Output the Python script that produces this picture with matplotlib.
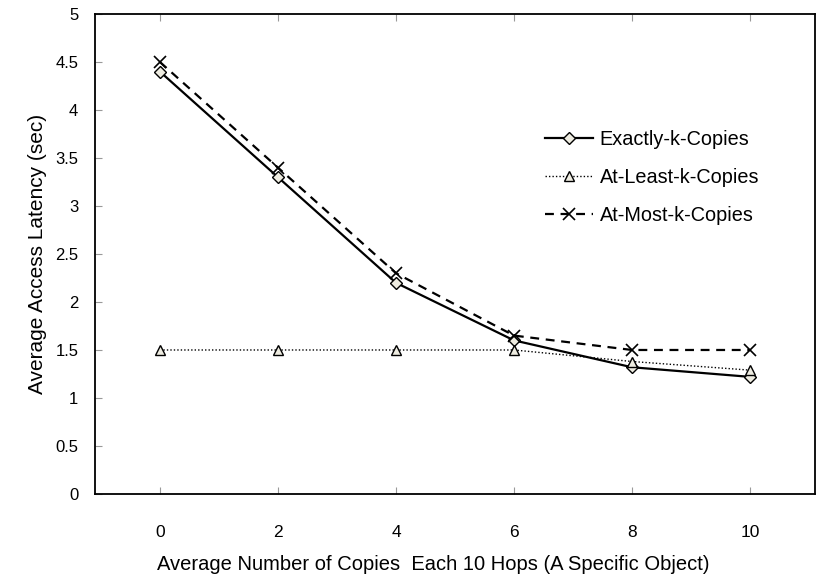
import matplotlib.pyplot as plt

x = [0, 2, 4, 6, 8, 10]
exactly = [4.4, 3.3, 2.2, 1.6, 1.32, 1.22]
at_least = [1.5, 1.5, 1.5, 1.5, 1.38, 1.29]
at_most = [4.5, 3.4, 2.3, 1.65, 1.5, 1.5]
ylabels = ['0', '0.5', '1', '1.5', '2', '2.5', '3', '3.5', '4', '4.5', '5']

fill = '#EEECE1'
fig = plt.figure(figsize=(8.31, 5.76), dpi=100)
ax = fig.add_axes([0.1143, 0.1424, 0.8664, 0.8333])

ax.plot(x, exactly, color='black', lw=1.6, ls='-', marker='D', ms=6,
        mfc=fill, mec='black', mew=1, label='Exactly-k-Copies')
ax.plot(x, at_least, color='black', lw=1.0, ls=(0, (1, 1.5)), marker='^', ms=7,
        mfc=fill, mec='black', mew=1, label='At-Least-k-Copies')
ax.plot(x, at_most, color='black', lw=1.6, ls=(0, (4, 3)), marker='x', ms=8,
        mfc=fill, mec='black', mew=1.2, label='At-Most-k-Copies')

ax.set_xlim(-1.1, 11.1)
ax.set_ylim(0, 5)
ax.set_xticks(x)
ax.set_yticks([i * 0.5 for i in range(11)])
ax.set_yticklabels(ylabels, family='Liberation Sans', fontsize=12)
ax.set_xticklabels([str(v) for v in x], family='Liberation Sans', fontsize=12.5)
ax.tick_params(axis='both', direction='in', length=5, color='#999999', width=0.8)
ax.tick_params(axis='x', top=True, pad=22)
ax.tick_params(axis='y', pad=12)
for s in ax.spines.values():
    s.set_linewidth(1.3)

ax.set_ylabel('Average Access Latency (sec)', family='Liberation Sans', fontsize=15, labelpad=6)
ax.set_xlabel('Average Number of Copies  Each 10 Hops (A Specific Object)',
              family='Liberation Sans', fontsize=14.5)
ax.xaxis.set_label_coords(0.47, -0.128)

ax.legend(loc='upper left', bbox_to_anchor=(0.625, 0.758), frameon=False,
          borderaxespad=0, borderpad=0,
          prop={'family': 'Liberation Sans', 'size': 14.3},
          handlelength=2.4, labelspacing=0.95, handletextpad=0.35)

fig.savefig('out.png', dpi=100)
